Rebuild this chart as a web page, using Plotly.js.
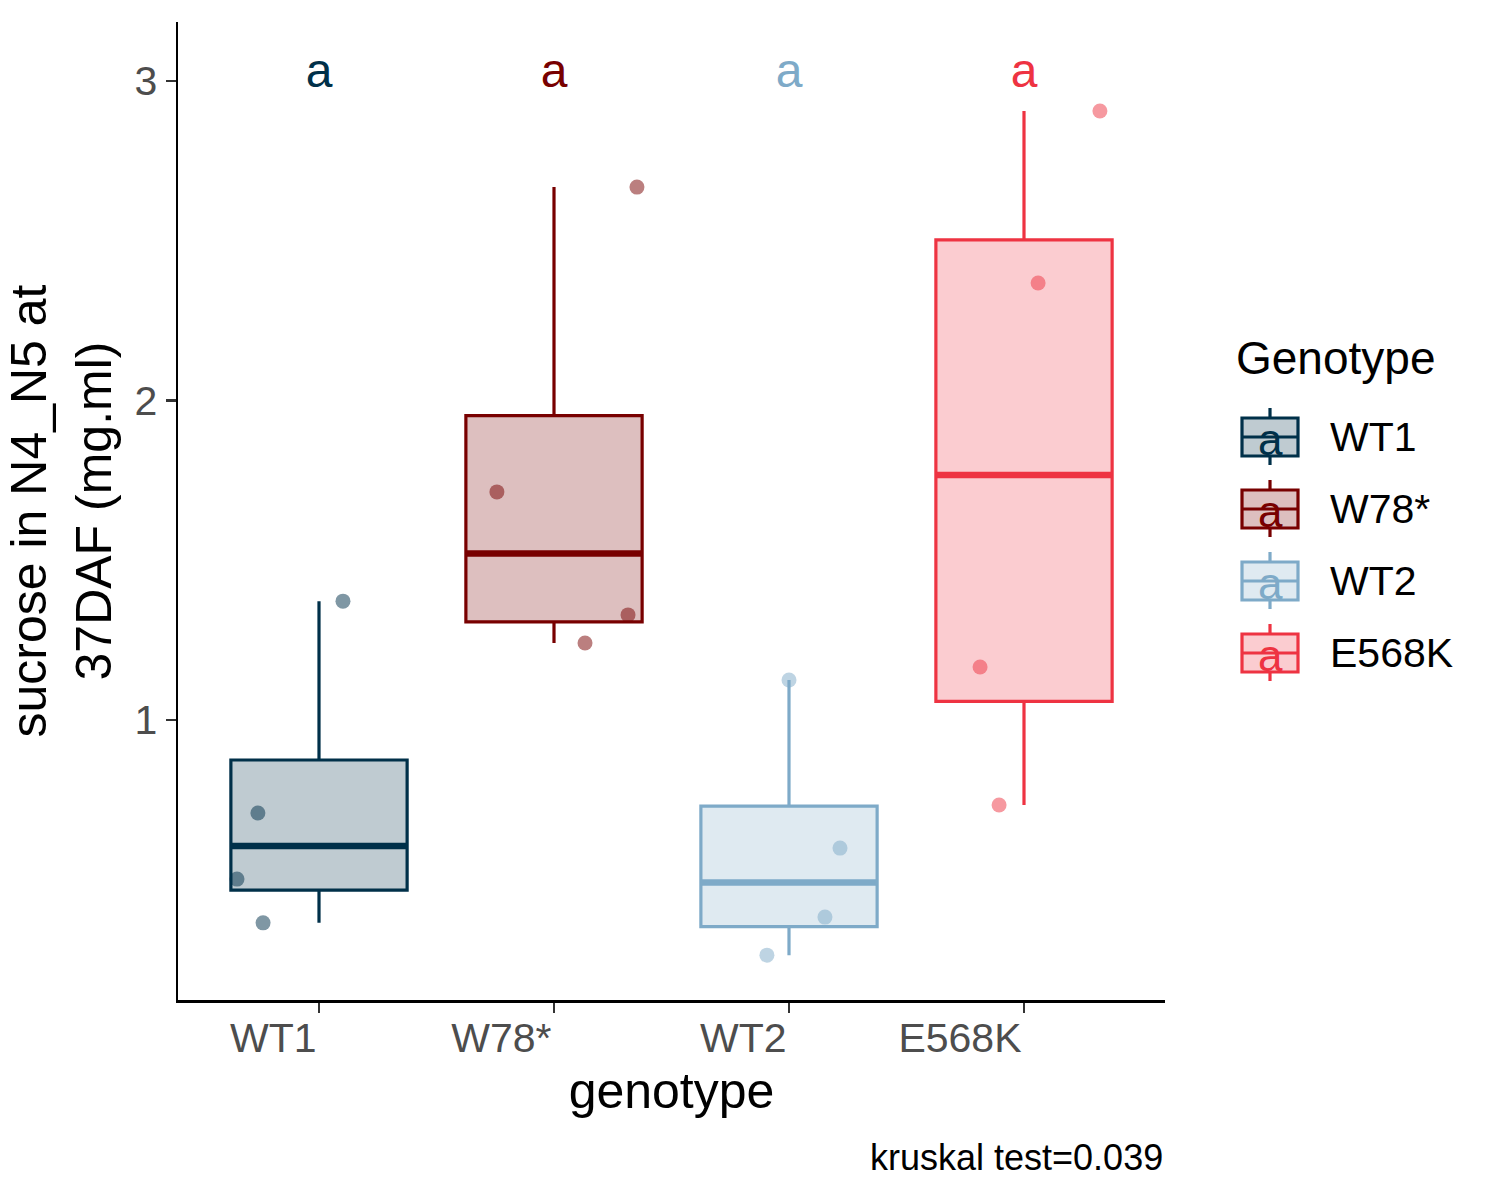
<!DOCTYPE html>
<html>
<head>
<meta charset="utf-8">
<script src="https://cdn.plot.ly/plotly-3.0.1.min.js"></script>
<style>
  body { margin: 0; background: #fff; }
  #chart { width: 1500px; height: 1200px; }
</style>
</head>
<body>
<div id="chart"></div>
<script>
var genotypes = ['WT1', 'W78*', 'WT2', 'E568K'];
var colours = ['#003049', '#780000', '#7EAAC8', '#EE3342'];
var letters = ['a', 'a', 'a', 'a'];

// sucrose (mg.ml) per plant
var sucroseWT1 = [1.372, 0.709, 0.502, 0.365];
var sucroseW78 = [2.668, 1.714, 1.329, 1.241];
var sucroseWT2 = [1.125, 0.599, 0.383, 0.264];
var sucroseE568K = [2.906, 2.368, 1.166, 0.734];

// horizontal jitter of each point, in category units
var jitterWT1 = [0.102, -0.260, -0.349, -0.238];
var jitterW78 = [0.353, -0.243, 0.315, 0.132];
var jitterWT2 = [0.000, 0.217, 0.153, -0.094];
var jitterE568K = [0.323, 0.060, -0.187, -0.106];

var kruskalP = '0.039';

var values = [sucroseWT1, sucroseW78, sucroseWT2, sucroseE568K];
var jitters = [jitterWT1, jitterW78, jitterWT2, jitterE568K];

var boxWidth = 0.75;
var letterY = 3.02;

// plot area in pixels, used to place the hand drawn legend
var plotL = 178, plotR = 1165, plotT = 22, plotB = 1000;
function px2x(px) { return (px - plotL) / (plotR - plotL); }
function px2y(py) { return (plotB - py) / (plotB - plotT); }

function rgba(hex, a) {
  var r = parseInt(hex.slice(1, 3), 16);
  var g = parseInt(hex.slice(3, 5), 16);
  var b = parseInt(hex.slice(5, 7), 16);
  return 'rgba(' + r + ',' + g + ',' + b + ',' + a + ')';
}

// same quantiles as R (type 7)
function quantile(vals, p) {
  var s = vals.slice().sort(function(a, b) { return a - b; });
  var h = (s.length - 1) * p;
  var lo = Math.floor(h), hi = Math.ceil(h);
  return s[lo] + (h - lo) * (s[hi] - s[lo]);
}

var traces = [];

for (var i = 0; i < genotypes.length; i++) {
  var v = values[i];
  var q1 = quantile(v, 0.25);
  var med = quantile(v, 0.5);
  var q3 = quantile(v, 0.75);
  var iqr = q3 - q1;
  var inside = v.filter(function(d) { return d >= q1 - 1.5 * iqr && d <= q3 + 1.5 * iqr; });

  traces.push({
    type: 'box',
    x: [i],
    q1: [q1],
    median: [med],
    q3: [q3],
    lowerfence: [Math.min.apply(null, inside)],
    upperfence: [Math.max.apply(null, inside)],
    width: boxWidth,
    whiskerwidth: 0,
    boxpoints: false,
    fillcolor: rgba(colours[i], 0.25),
    line: {color: colours[i], width: 3.2},
    showlegend: false,
    hoverinfo: 'skip'
  });

  // thicker median line like ggplot
  traces.push({
    type: 'scatter',
    mode: 'lines',
    x: [i - boxWidth / 2, i + boxWidth / 2],
    y: [med, med],
    line: {color: colours[i], width: 6.5},
    showlegend: false,
    hoverinfo: 'skip'
  });

  traces.push({
    type: 'scatter',
    mode: 'markers',
    x: v.map(function(d, k) { return i + jitters[i][k]; }),
    y: v,
    marker: {size: 15, color: rgba(colours[i], 0.5)},
    showlegend: false,
    hoverinfo: 'skip'
  });
}

traces.push({
  type: 'scatter',
  mode: 'text',
  x: genotypes.map(function(g, k) { return k; }),
  y: genotypes.map(function() { return letterY; }),
  text: letters,
  textposition: 'middle center',
  textfont: {size: 48, color: colours},
  showlegend: false,
  hoverinfo: 'skip'
});

// legend drawn by hand so the keys look like the ggplot ones
var shapes = [];
var annotations = [];
var keyL = 1242, keyR = 1298, keyC = 1270;

annotations.push({
  xref: 'paper', yref: 'paper',
  x: px2x(1234), y: px2y(358),
  xanchor: 'left', yanchor: 'middle',
  text: 'Genotype', showarrow: false,
  font: {size: 46, color: '#000000'}
});

for (var j = 0; j < genotypes.length; j++) {
  var cy = 437 + 72 * j;
  var col = colours[j];
  shapes.push({
    type: 'rect', xref: 'paper', yref: 'paper',
    x0: px2x(keyL), x1: px2x(keyR), y0: px2y(cy + 19), y1: px2y(cy - 19),
    fillcolor: rgba(col, 0.25), line: {color: col, width: 3.2}
  });
  shapes.push({
    type: 'line', xref: 'paper', yref: 'paper',
    x0: px2x(keyL), x1: px2x(keyR), y0: px2y(cy), y1: px2y(cy),
    line: {color: col, width: 3.2}
  });
  shapes.push({
    type: 'line', xref: 'paper', yref: 'paper',
    x0: px2x(keyC), x1: px2x(keyC), y0: px2y(cy - 29), y1: px2y(cy - 19),
    line: {color: col, width: 3.2}
  });
  shapes.push({
    type: 'line', xref: 'paper', yref: 'paper',
    x0: px2x(keyC), x1: px2x(keyC), y0: px2y(cy + 19), y1: px2y(cy + 28),
    line: {color: col, width: 3.2}
  });
  annotations.push({
    xref: 'paper', yref: 'paper',
    x: px2x(keyC), y: px2y(cy + 2),
    xanchor: 'center', yanchor: 'middle',
    text: letters[j], showarrow: false,
    font: {size: 44, color: col}
  });
  annotations.push({
    xref: 'paper', yref: 'paper',
    x: px2x(1328), y: px2y(cy),
    xanchor: 'left', yanchor: 'middle',
    text: genotypes[j], showarrow: false,
    font: {size: 41, color: '#000000'}
  });
}

annotations.push({
  xref: 'paper', yref: 'paper',
  x: 1, y: px2y(1157),
  xanchor: 'right', yanchor: 'middle',
  text: 'kruskal test=' + kruskalP, showarrow: false,
  font: {size: 36, color: '#000000'}
});

var layout = {
  width: 1500,
  height: 1200,
  margin: {l: plotL, r: 1500 - plotR, t: plotT, b: 1200 - plotB},
  paper_bgcolor: '#ffffff',
  plot_bgcolor: '#ffffff',
  font: {family: 'Liberation Sans, Arial, sans-serif', color: '#000000'},
  boxmode: 'overlay',
  showlegend: false,
  hovermode: false,
  xaxis: {
    range: [-0.6, 3.6],
    tickvals: [0, 1, 2, 3],
    ticktext: genotypes,
    ticks: 'outside',
    ticklen: 10,
    tickwidth: 2.5,
    tickcolor: '#333333',
    ticklabelposition: 'outside left',
    tickfont: {size: 41, color: '#4D4D4D'},
    showline: true,
    linecolor: '#000000',
    linewidth: 2.5,
    showgrid: false,
    zeroline: false,
    automargin: false,
    title: {text: 'genotype', font: {size: 50, color: '#000000'}, standoff: 14}
  },
  yaxis: {
    range: [0.1236, 3.1847],
    tickvals: [1, 2, 3],
    ticks: 'outside',
    ticklen: 10,
    tickwidth: 2.5,
    tickcolor: '#333333',
    tickfont: {size: 41, color: '#4D4D4D'},
    showline: true,
    linecolor: '#000000',
    linewidth: 2.5,
    showgrid: false,
    zeroline: false,
    automargin: false,
    title: {text: 'sucrose in N4_N5 at<br>37DAF (mg.ml)', font: {size: 50, color: '#000000'}, standoff: 7}
  },
  shapes: shapes,
  annotations: annotations
};

Plotly.newPlot('chart', traces, layout, {staticPlot: true});
</script>
</body>
</html>
